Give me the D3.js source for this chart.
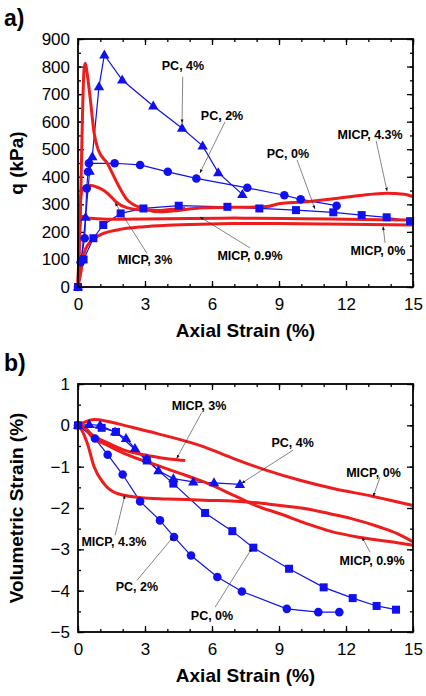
<!DOCTYPE html>
<html lang="en">
<head>
<meta charset="UTF-8">
<script src="https://cdn.jsdelivr.net/npm/d3@7"></script>
<style>
  body { margin: 0; background: #fff; }
  svg { display: block; font-family: "Liberation Sans", Arial, sans-serif; }
  .tick text { font-size: 17px; fill: #000; }
  .tick line { stroke: #000; stroke-width: 1.3; }
</style>
</head>
<body>
<svg id="chart" width="426" height="696"></svg>
<script>
// --- data: [axial strain %, value] ---
const strainTicks = [0, 3, 6, 9, 12, 15];
const qTicks = [0, 100, 200, 300, 400, 500, 600, 700, 800, 900];
const volTicks = [1, 0, -1, -2, -3, -4, -5];

// panel a) deviator stress q (kPa)
const pc4Stress = [[0,0],[0.15,100],[0.34,253],[0.52,420],[0.64,473],[0.94,727],[1.18,842],[1.98,751],[3.37,657],[4.66,576],[5.58,512],[6.28,415],[7.36,336]];
const pc2Stress = [[0,0],[0.12,90],[0.3,177],[0.39,358],[0.45,418],[0.49,449],[1.64,449],[2.78,443],[4.02,418],[5.3,394],[7.58,360],[9.24,333],[9.97,318],[11.58,295]];
const pc0Stress = [[0,0],[0.25,100],[0.69,177],[1.13,225],[1.91,267],[2.93,285],[4.51,295],[6.69,291],[8.12,285],[9.76,279],[11.43,271],[12.7,261],[13.82,253],[14.87,239]];
const micp43Stress = [[0,0],[0.1,250],[0.2,620],[0.27,790],[0.33,812],[0.4,780],[0.54,690],[0.72,560],[0.91,497],[1.31,449],[1.76,376],[2.21,316],[2.96,284],[3.67,273],[4.5,278],[5.46,287],[7,289],[8.45,292],[9.05,303],[10,308],[11.43,320],[12.63,332],[13.82,340],[14.6,337],[15,328]];
const micp3Stress = [[0,0],[0.06,200],[0.13,330],[0.25,360],[0.57,368],[0.8,364],[1.16,350],[1.45,330],[1.69,310],[2.21,287],[2.96,279],[3.67,278],[4.2,282],[4.8,285]];
const micp09Stress = [[0,0],[0.05,150],[0.12,250],[0.2,256],[0.4,250],[1.3,246],[3,247],[5,249],[7,250],[10,248],[12,246],[15,243]];
const micp0Stress = [[0,0],[0.12,50],[0.27,122],[0.49,158],[1,189],[1.76,207],[2.96,219],[4,224],[5.5,228],[7,230],[9,230],[11,229],[13,227],[15,225]];

// panel b) volumetric strain (%)
const pc4Vol = [[0,0],[0.5,0.02],[0.99,0],[1.66,-0.16],[2.15,-0.32],[2.55,-0.56],[3.08,-0.81],[3.6,-1.1],[4.27,-1.29],[5.16,-1.37],[6.09,-1.39],[7.25,-1.43]];
const pc2Vol = [[0,0],[0.76,-0.32],[1.33,-0.71],[2,-1.19],[2.78,-1.84],[3.67,-2.3],[4.3,-2.7],[5.06,-3.15],[6.24,-3.67],[7.34,-4.02],[9.35,-4.44],[10.76,-4.52],[11.7,-4.52]];
const pc0Vol = [[0,0],[1.06,-0.06],[1.7,-0.16],[3.08,-0.85],[4.27,-1.41],[5.69,-2.12],[6.91,-2.56],[7.85,-2.96],[9.45,-3.47],[11,-3.92],[12.3,-4.18],[13.37,-4.37],[14.24,-4.46]];
const micp43Vol = [[0,0],[0.15,-0.1],[0.42,-0.44],[0.72,-1],[1.16,-1.41],[1.76,-1.65],[2.81,-1.75],[4,-1.78],[5.64,-1.81],[7.7,-1.86],[9.04,-1.94],[10,-2],[11.28,-2.14],[12.2,-2.25],[13.5,-2.46],[14.3,-2.62],[15,-2.82]];
const micp3Vol = [[0,0],[0.3,-0.05],[0.57,-0.2],[1.31,-0.42],[2.06,-0.6],[3,-0.72],[3.55,-0.77],[4.2,-0.82],[4.8,-0.85]];
const micp09Vol = [[0,0],[0.3,-0.06],[0.57,-0.25],[1.31,-0.48],[2.06,-0.68],[3.55,-0.97],[4.5,-1.15],[5.64,-1.37],[7,-1.7],[8,-1.95],[9.04,-2.14],[10.2,-2.37],[11.28,-2.56],[12.5,-2.7],[13.5,-2.78],[14.3,-2.84],[15,-2.9]];
const micp0Vol = [[0,0],[0.3,0.08],[0.72,0.14],[1.3,0.1],[2.06,0],[3.55,-0.2],[5.64,-0.52],[7,-0.81],[8.45,-1.09],[9.94,-1.33],[11.43,-1.53],[13.22,-1.72],[15,-1.94]];

// annotation labels: [text, label strain, label value, arrow from, arrow to]
const stressNotes = [
  ["PC, 4%", 4.7, 805, [4.69, 763], [4.66, 595]],
  ["PC, 2%", 6.45, 624, [6.58, 599], [5.46, 414]],
  ["PC, 0%", 9.4, 483, [9.81, 461], [10.61, 283]],
  ["MICP, 4.3%", 13.08, 552, [13.35, 530], [13.84, 348]],
  ["MICP, 3%", 3.0, 98, [3.08, 123], [1.66, 305]],
  ["MICP, 0.9%", 7.7, 116, [7.7, 142], [5.46, 254]],
  ["MICP, 0%", 13.43, 134, [13.75, 160], [13.66, 220]]
];
const volNotes = [
  ["MICP, 3%", 5.42, 0.48, [5.54, 0.31], [4.42, -0.8]],
  ["PC, 4%", 9.61, -0.41, [9.63, -0.6], [7.33, -1.4]],
  ["MICP, 0%", 13.23, -1.14, [13.52, -1.26], [13.22, -1.72]],
  ["MICP, 0.9%", 13.17, -3.27, [13.08, -3.07], [12.72, -2.71]],
  ["MICP, 4.3%", 1.61, -2.82, [1.66, -2.66], [2.1, -1.69]],
  ["PC, 2%", 2.64, -3.91, [2.64, -3.75], [4.25, -2.71]],
  ["PC, 0%", 6.0, -4.6, [6.14, -4.4], [7.78, -2.98]]
];

const red = "#ee1c1c", blue = "#1010f0";
const svg = d3.select("#chart");

svg.append("defs").append("marker")
  .attr("id", "arrow").attr("viewBox", "0 0 10 10")
  .attr("refX", 10).attr("refY", 5)
  .attr("markerWidth", 6).attr("markerHeight", 6)
  .attr("orient", "auto-start-reverse")
  .append("path").attr("d", "M0,1 L10,5 L0,9 Z").attr("fill", "#111");

function drawPanel(opt) {
  const left = 78, right = 413;
  const x = d3.scaleLinear().domain([0, 15]).range([left, right]);
  const y = d3.scaleLinear().domain(opt.yDomain).range([opt.bottom, opt.top]);
  const g = svg.append("g");

  // ticks, all pointing inward
  const xMinor = d3.range(0, 15.01, 1);
  const yMinor = d3.range(opt.yDomain[0], opt.yDomain[1] + 1e-6, opt.yMinorStep);
  const addAxis = (axis, tr) => {
    const a = g.append("g").attr("transform", tr).call(axis);
    a.select(".domain").remove();
    return a;
  };
  addAxis(d3.axisBottom(x).tickValues(xMinor).tickSize(-3).tickFormat(""), `translate(0,${opt.bottom})`);
  addAxis(d3.axisTop(x).tickValues(xMinor).tickSize(-3).tickFormat(""), `translate(0,${opt.top})`);
  addAxis(d3.axisLeft(y).tickValues(yMinor).tickSize(-3).tickFormat(""), `translate(${left},0)`);
  addAxis(d3.axisRight(y).tickValues(yMinor).tickSize(-3).tickFormat(""), `translate(${right},0)`);
  addAxis(d3.axisBottom(x).tickValues(strainTicks).tickSize(-6).tickPadding(11).tickFormat(d3.format("d")), `translate(0,${opt.bottom})`);
  addAxis(d3.axisTop(x).tickValues(strainTicks).tickSize(-6).tickFormat(""), `translate(0,${opt.top})`);
  addAxis(d3.axisLeft(y).tickValues(opt.yTicks).tickSize(-6).tickPadding(8).tickFormat(d3.format("d")), `translate(${left},0)`);
  addAxis(d3.axisRight(y).tickValues(opt.yTicks).tickSize(-6).tickFormat(""), `translate(${right},0)`);

  const plot = g.append("g");
  const smooth = d3.line().x(d => x(d[0])).y(d => y(d[1])).curve(d3.curveMonotoneX);
  const straight = d3.line().x(d => x(d[0])).y(d => y(d[1]));

  // blue PC series
  opt.pc.forEach(s => {
    plot.append("path").attr("d", straight(s.data)).attr("fill", "none")
      .attr("stroke", blue).attr("stroke-width", 1.2);
  });
  // red MICP curves
  opt.micp.forEach(s => {
    plot.append("path").attr("d", smooth(s)).attr("fill", "none")
      .attr("stroke", red).attr("stroke-width", 3).attr("stroke-linejoin", "round");
  });
  // markers on top
  opt.pc.forEach(s => {
    const m = plot.append("g").attr("fill", blue);
    s.data.forEach(d => {
      const px = x(d[0]), py = y(d[1]);
      if (s.shape === "triangle") {
        m.append("path").attr("d", `M${px},${py - 5.5}L${px + 5.2},${py + 3.5}L${px - 5.2},${py + 3.5}Z`);
      } else if (s.shape === "circle") {
        m.append("circle").attr("cx", px).attr("cy", py).attr("r", 4.3);
      } else {
        m.append("rect").attr("x", px - 4).attr("y", py - 4).attr("width", 8).attr("height", 8);
      }
    });
  });

  // frame
  g.append("rect").attr("x", left).attr("y", opt.top).attr("width", right - left)
    .attr("height", opt.bottom - opt.top).attr("fill", "none")
    .attr("stroke", "#000").attr("stroke-width", 1.8);

  // annotations
  opt.notes.forEach(n => {
    g.append("line")
      .attr("x1", x(n[3][0])).attr("y1", y(n[3][1]))
      .attr("x2", x(n[4][0])).attr("y2", y(n[4][1]))
      .attr("stroke", "#333").attr("stroke-width", 0.6)
      .attr("marker-end", "url(#arrow)");
    g.append("text").attr("x", x(n[1])).attr("y", y(n[2]) + 4.5)
      .attr("text-anchor", "middle").attr("font-size", 12.5).attr("font-weight", "bold")
      .text(n[0]);
  });

  // titles
  g.append("text").attr("x", (left + right) / 2).attr("y", opt.bottom + 50)
    .attr("text-anchor", "middle").attr("font-size", 19).attr("font-weight", "bold")
    .text("Axial Strain (%)");
  g.append("text")
    .attr("transform", `translate(23,${(opt.top + opt.bottom) / 2}) rotate(-90)`)
    .attr("text-anchor", "middle").attr("font-size", 19).attr("font-weight", "bold")
    .text(opt.yTitle);
  g.append("text").attr("x", 4).attr("y", opt.top - 13)
    .attr("font-size", 23).attr("font-weight", "bold").text(opt.tag);
}

drawPanel({
  tag: "a)", top: 39, bottom: 287, yDomain: [0, 900], yTicks: qTicks, yMinorStep: 50,
  yTitle: "q (kPa)",
  pc: [
    { data: pc4Stress, shape: "triangle" },
    { data: pc2Stress, shape: "circle" },
    { data: pc0Stress, shape: "square" }
  ],
  micp: [micp43Stress, micp3Stress, micp09Stress, micp0Stress],
  notes: stressNotes
});

drawPanel({
  tag: "b)", top: 384, bottom: 632, yDomain: [-5, 1], yTicks: volTicks, yMinorStep: 0.5,
  yTitle: "Volumetric Strain (%)",
  pc: [
    { data: pc4Vol, shape: "triangle" },
    { data: pc2Vol, shape: "circle" },
    { data: pc0Vol, shape: "square" }
  ],
  micp: [micp43Vol, micp3Vol, micp09Vol, micp0Vol],
  notes: volNotes
});
</script>
</body>
</html>
